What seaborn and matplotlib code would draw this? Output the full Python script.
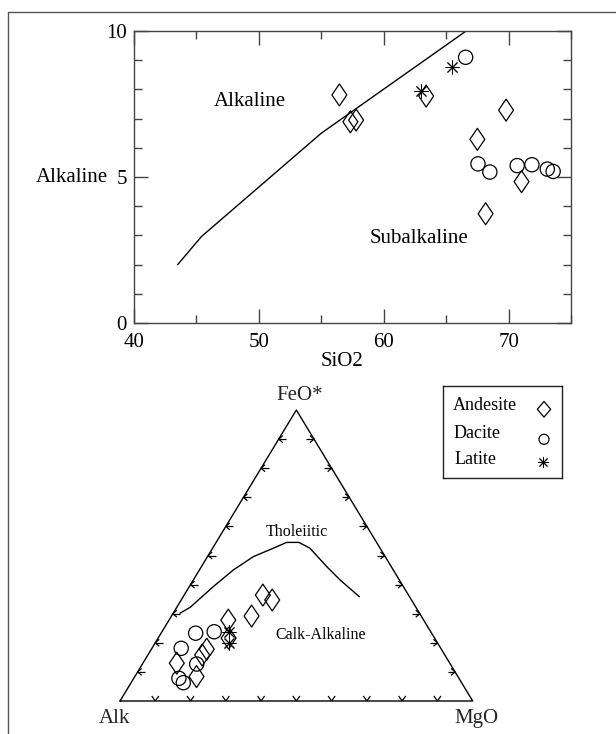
import numpy as np
import pandas as pd
import matplotlib
matplotlib.use("Agg")
import matplotlib.pyplot as plt
import seaborn as sns
from matplotlib.lines import Line2D
from matplotlib.collections import LineCollection
from matplotlib.ticker import MultipleLocator
from matplotlib.markers import MarkerStyle
from matplotlib.path import Path

# ---------------- data ----------------
# Top diagram: SiO2 vs total alkali
andesite_sio2 = [56.45, 57.33, 57.79, 63.4, 67.5, 68.16, 69.8, 71.04]
andesite_alk = [7.81, 6.89, 6.95, 7.77, 6.29, 3.74, 7.29, 4.84]
dacite_sio2 = [66.56, 67.55, 68.5, 70.69, 71.87, 73.1, 73.57]
dacite_alk = [9.1, 5.45, 5.17, 5.39, 5.42, 5.27, 5.19]
latite_sio2 = [62.96, 65.5]
latite_alk = [7.95, 8.76]
boundary_sio2 = [43.5, 45.4, 55.0, 66.6]
boundary_alk = [2.0, 2.96, 6.5, 10.0]
x_ticks = [40, 50, 60, 70]
y_ticks = [0, 5, 10]

# AFM ternary (percent Alk, FeO*, MgO)
afm_andesite_alk = [41.3, 39.5, 55.4, 48.1, 66.5, 68.8, 77.4, 74.1, 58.4]
afm_andesite_feo = [36.4, 34.7, 27.8, 29.2, 17.8, 15.8, 13.0, 8.4, 21.6]
afm_andesite_mgo = [22.3, 25.8, 16.8, 22.7, 15.7, 15.4, 9.6, 17.5, 20.0]
afm_dacite_alk = [61.4, 66.9, 73.6, 71.9, 79.4, 78.9]
afm_dacite_feo = [23.8, 23.3, 18.1, 12.7, 7.8, 6.3]
afm_dacite_mgo = [14.8, 9.8, 8.3, 15.4, 12.8, 14.8]
afm_latite_alk = [57.4, 59.3]
afm_latite_feo = [23.6, 19.8]
afm_latite_mgo = [19.0, 20.9]
thol_alk = [67.9, 64.0, 53.9, 45.4, 37.4, 30.3, 25.5, 22.0, 19.9, 18.3, 16.8, 14.2]
thol_feo = [30.1, 32.2, 39.3, 45.0, 49.6, 52.5, 54.5, 54.5, 52.5, 46.2, 41.6, 35.8]
thol_mgo = [1.9, 3.8, 6.8, 9.6, 13.0, 17.2, 20.0, 23.5, 27.6, 35.5, 41.6, 49.9]
legend_labels = ["Andesite", "Dacite", "Latite"]

# ---------------- style ----------------
sns.set_theme(style="white")
plt.rcParams['font.family'] = ['Liberation Serif', 'DejaVu Serif']
plt.rcParams['axes.edgecolor'] = '#444444'
plt.rcParams['axes.linewidth'] = 1.0

W, H = 616, 734
fig = plt.figure(figsize=(W / 100, H / 100), dpi=100)


def box(x0, y0, x1, y1):
    return [x0 / W, 1 - y1 / H, (x1 - x0) / W, (y1 - y0) / H]


DIAMOND = MarkerStyle(Path([(0, 1), (0.68, 0), (0, -1), (-0.68, 0), (0, 1)], closed=True))
DIAMOND_LEG = MarkerStyle(Path([(0, 1), (0.85, 0), (0, -1), (-0.85, 0), (0, 1)], closed=True))
STAR = (8, 2, 0)

# ---------------- top diagram ----------------
ax1 = fig.add_axes(box(134, 31, 571, 323))
sns.lineplot(x=boundary_sio2, y=boundary_alk, sort=False, estimator=None,
             color='black', lw=1.0, ax=ax1)
sns.scatterplot(x=andesite_sio2, y=andesite_alk, marker=DIAMOND, s=250,
                facecolor='none', edgecolor='black', linewidth=0.9, ax=ax1, zorder=3)
sns.scatterplot(x=dacite_sio2, y=dacite_alk, marker='o', s=105,
                facecolor='none', edgecolor='black', linewidth=0.9, ax=ax1, zorder=3)
sns.scatterplot(x=latite_sio2, y=latite_alk, marker=STAR, s=90,
                color='black', linewidth=0.7, ax=ax1, zorder=4)
ax1.set_xlim(40, 75)
ax1.set_ylim(0, 10)
ax1.set_xticks(x_ticks)
ax1.set_yticks(y_ticks)
ax1.xaxis.set_minor_locator(MultipleLocator(5))
ax1.yaxis.set_minor_locator(MultipleLocator(1))
ax1.tick_params(which='both', direction='in', top=True, right=True, bottom=True, left=True,
                color='#444444', width=1.0)
ax1.tick_params(which='major', length=10, labelsize=15, labelcolor='black')
ax1.tick_params(axis='x', which='major', pad=7)
ax1.tick_params(axis='y', which='major', pad=5)
ax1.tick_params(which='minor', length=6)
ax1.set_xlabel('SiO2', fontsize=15, color='black')
ax1.xaxis.set_label_coords((341.7 - 134) / 437, (323 - 366) / 292)
ax1.xaxis.label.set_va('baseline')
ax1.set_ylabel('Alkaline', fontsize=15, color='black', rotation=0, ha='right', va='baseline')
ax1.yaxis.set_label_coords((108 - 134) / 437, (323 - 182) / 292)
ax1.text(49.28, 7.43, 'Alkaline', fontsize=15, ha='center', va='baseline', color='black')
ax1.text(62.8, 2.74, 'Subalkaline', fontsize=15, ha='center', va='baseline', color='black')

# ---------------- AFM ternary ----------------
h = np.sqrt(3) / 2


def tern(alk, feo, mgo):
    a = np.asarray(alk, float); f = np.asarray(feo, float); m = np.asarray(mgo, float)
    tot = a + f + m
    f = f / tot; m = m / tot
    return m + f / 2, f * h


ax2 = fig.add_axes(box(120, 410, 472.7, 701))
ax2.set_xlim(0, 1)
ax2.set_ylim(0, h)
ax2.axis('off')
ax2.plot([0, 1, 0.5, 0], [0, 0, h, 0], color='black', lw=1.0, clip_on=False)

dx = 1 / 352.7
dy = h / 291
segs = []
for k in range(1, 10):
    t = k / 10
    # bottom edge
    x = t
    segs.append([(x - 3.5 * dx, 5 * dy), (x, 0), (x + 3.5 * dx, 5 * dy)])
    # left edge
    px, py = t / 2, t * h
    segs.append([(px, py), (px + 7.5 * dx, py)])
    segs.append([(px + 4 * dx, py + 3.5 * dy), (px, py), (px + 4 * dx, py - 3.5 * dy)])
    # right edge
    px, py = 1 - t / 2, t * h
    segs.append([(px, py), (px - 7.5 * dx, py)])
    segs.append([(px - 4 * dx, py + 3.5 * dy), (px, py), (px - 4 * dx, py - 3.5 * dy)])
ax2.add_collection(LineCollection(segs, colors='black', linewidths=0.9))

tx, ty = tern(thol_alk, thol_feo, thol_mgo)
sns.lineplot(x=tx, y=ty, sort=False, estimator=None, color='black', lw=1.0, ax=ax2)

ax_, ay_ = tern(afm_andesite_alk, afm_andesite_feo, afm_andesite_mgo)
sns.scatterplot(x=ax_, y=ay_, marker=DIAMOND, s=250, facecolor='none',
                edgecolor='black', linewidth=0.9, ax=ax2, zorder=3)
dx_, dy_ = tern(afm_dacite_alk, afm_dacite_feo, afm_dacite_mgo)
sns.scatterplot(x=dx_, y=dy_, marker='o', s=105, facecolor='none',
                edgecolor='black', linewidth=0.9, ax=ax2, zorder=3)
lx_, ly_ = tern(afm_latite_alk, afm_latite_feo, afm_latite_mgo)
sns.scatterplot(x=lx_, y=ly_, marker=STAR, s=90, color='black', linewidth=0.7,
                ax=ax2, zorder=4)


def axfrac(px, py):
    return (px - 120) / 352.7, (701 - py) / 291


ax2.text(*axfrac(296.7, 536), 'Tholeiitic', transform=ax2.transAxes, fontsize=11.5,
         ha='center', va='baseline', color='black')
ax2.text(*axfrac(321, 639), 'Calk-Alkaline', transform=ax2.transAxes, fontsize=11.5,
         ha='center', va='baseline', color='black')
fig.text(300 / W, 1 - 400 / H, 'FeO*', fontsize=15, ha='center', va='baseline')
fig.text(114.6 / W, 1 - 723 / H, 'Alk', fontsize=15, ha='center', va='baseline')
fig.text(476 / W, 1 - 723 / H, 'MgO', fontsize=15, ha='center', va='baseline')

# ---------------- legend box ----------------
axL = fig.add_axes(box(442.7, 386, 562, 478.3))
axL.set_xlim(442.7, 562)
axL.set_ylim(478.3, 386)
axL.set_xticks([]); axL.set_yticks([])
for sp in axL.spines.values():
    sp.set_color('#222222'); sp.set_linewidth(1.0)
text_y = [406, 433.3, 460]
text_x = [453.3, 453.3, 455]
for lab, tx0, ty0 in zip(legend_labels, text_x, text_y):
    axL.text(tx0, ty0, lab, fontsize=13, ha='left', va='center', color='black')
axL.scatter([544], [409.3], marker=DIAMOND_LEG, s=128, facecolor='none',
            edgecolor='black', linewidth=0.9)
axL.scatter([544], [439.3], marker='o', s=52, facecolor='none',
            edgecolor='black', linewidth=0.9)
axL.scatter([543], [461.7], marker=STAR, s=55, color='black', linewidth=0.7)

# ---------------- page frame ----------------
fig.add_artist(Line2D([8 / W, 1], [1 - 11.7 / H, 1 - 11.7 / H], transform=fig.transFigure,
                      color='#555555', lw=1.0))
fig.add_artist(Line2D([8 / W, 8 / W], [0, 1 - 11.7 / H], transform=fig.transFigure,
                      color='#555555', lw=1.0))

fig.savefig('out.png', dpi=100)
